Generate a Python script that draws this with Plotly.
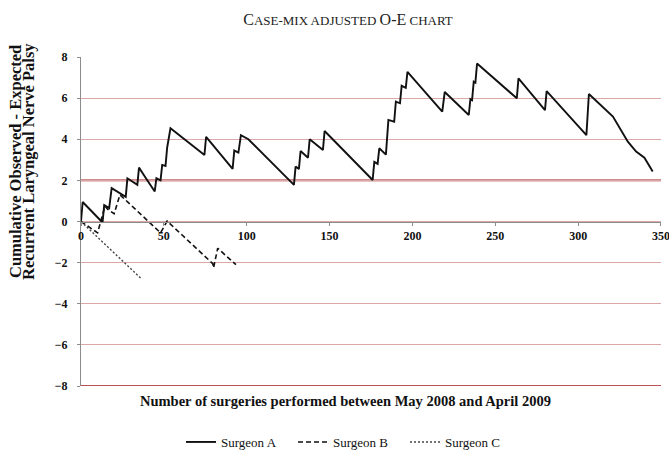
import plotly.graph_objects as go

# ---- data ----
surgeon_a_x = [0, 1, 13, 14, 17, 18.5, 27, 28, 34, 35, 38, 44.5, 45.5, 48, 49, 51, 52, 54,
               74.5, 75.5, 91.5, 92.5, 95, 96.5, 101, 128.5, 129.5, 131.5, 132.5, 137, 138,
               146, 147, 176, 177, 179, 180, 184, 185.5, 189, 190, 192.5, 193.5, 196, 197,
               218, 219.5, 234, 235, 236, 237, 238, 239, 263, 264, 280, 281, 305, 306.5,
               321, 330, 335, 340, 345]
surgeon_a_y = [0, 0.95, -0.05, 0.8, 0.65, 1.62, 1.2, 2.1, 1.78, 2.62, 2.25, 1.46, 2.1, 2.0, 2.75, 2.7, 3.6, 4.53,
               3.24, 4.12, 2.56, 3.45, 3.35, 4.2, 4.0, 1.78, 2.67, 2.55, 3.43, 3.1, 4.0,
               3.48, 4.4, 2.02, 2.9, 2.8, 3.56, 3.25, 4.94, 4.85, 5.83, 5.75, 6.6, 6.5, 7.28,
               5.34, 6.3, 5.18, 5.95, 5.9, 6.8, 6.75, 7.68, 5.99, 6.96, 5.42, 6.34, 4.2, 6.2,
               5.1, 3.88, 3.4, 3.1, 2.43]

surgeon_b_x = [0, 10, 14.5, 16, 20, 23.5, 48, 52, 79.5, 80, 82.5, 93.5]
surgeon_b_y = [0, -0.55, 0.75, 0.6, 0.38, 1.3, -0.55, 0.02, -2.05, -2.25, -1.3, -2.1]

surgeon_c_x = [0, 36]
surgeon_c_y = [0, -2.75]

y_ticks = [-8, -6, -4, -2, 0, 2, 4, 6, 8]
x_ticks = [0, 50, 100, 150, 200, 250, 300, 350]
limit_lines = [2, -8]

SERIF = "Liberation Serif, Times New Roman, serif"

fig = go.Figure()
fig.add_trace(go.Scatter(x=surgeon_a_x, y=surgeon_a_y, mode="lines", name="Surgeon A",
                         line=dict(color="#111111", width=1.9)))
fig.add_trace(go.Scatter(x=surgeon_b_x, y=surgeon_b_y, mode="lines", name="Surgeon B",
                         line=dict(color="#111111", width=1.6, dash="5px,3px")))
fig.add_trace(go.Scatter(x=surgeon_c_x, y=surgeon_c_y, mode="lines", name="Surgeon C",
                         line=dict(color="#444444", width=1.4, dash="2px,2px")))

for v in limit_lines:
    fig.add_shape(type="line", xref="paper", x0=0, x1=1, yref="y", y0=v, y1=v,
                  line=dict(color="#a01818", width=1.6), layer="below")

fig.update_layout(
    width=669, height=460,
    margin=dict(l=81, r=8, t=57, b=74, autoexpand=False),
    paper_bgcolor="white", plot_bgcolor="white",
    font=dict(family=SERIF, color="#111111"),
    title=dict(
        text="C<span style='font-size:13px'>ASE-MIX ADJUSTED </span>O-E<span style='font-size:13px'> CHART</span>",
        x=348 / 669, xanchor="center", xref="container",
        y=1 - 19 / 460, yanchor="middle", yref="container",
        font=dict(family=SERIF, size=16, color="#222222"),
    ),
    xaxis=dict(
        range=[0, 350.01], tickvals=x_ticks, showgrid=False, zeroline=False,
        showline=True, linecolor="#8c8c8c", linewidth=1,
        ticks="outside", ticklen=3, tickcolor="#8c8c8c",
        anchor="free", position=0.5, automargin=False, ticklabeloverflow="allow",
        tickfont=dict(family=SERIF, size=12, weight="bold", color="#111111"),
    ),
    yaxis=dict(
        range=[-8, 8], tickvals=y_ticks, showgrid=True, gridcolor="#dba8a8", gridwidth=1,
        zeroline=False, showline=True, linecolor="#8c8c8c", linewidth=1,
        ticks="outside", ticklen=3, tickcolor="#8c8c8c", automargin=False,
        ticklabelstandoff=7,
        tickfont=dict(family=SERIF, size=12, weight="bold", color="#111111"),
    ),
    legend=dict(orientation="h", x=(349 - 81) / 580, xanchor="center",
                y=(386 - 442) / 329, yanchor="middle",
                font=dict(family=SERIF, size=13, color="#111111"),
                itemwidth=30, tracegroupgap=0, entrywidth=67, entrywidthmode="pixels"),
    showlegend=True,
)

fig.add_annotation(text="Cumulative Observed - Expected",
                   xref="paper", yref="paper", x=(15 - 81) / 580, y=(386 - 162) / 329,
                   textangle=-90, showarrow=False, xanchor="center", yanchor="middle",
                   font=dict(family=SERIF, size=16.5, weight="bold", color="#111111"))
fig.add_annotation(text="Recurrent Laryngeal Nerve Palsy",
                   xref="paper", yref="paper", x=(28 - 81) / 580, y=(386 - 162) / 329,
                   textangle=-90, showarrow=False, xanchor="center", yanchor="middle",
                   font=dict(family=SERIF, size=16.5, weight="bold", color="#111111"))
fig.add_annotation(text="Number of surgeries performed between May 2008 and April 2009",
                   xref="paper", yref="paper", x=(345 - 81) / 580, y=(386 - 401) / 329,
                   showarrow=False, xanchor="center", yanchor="middle",
                   font=dict(family=SERIF, size=14.5, weight="bold", color="#111111"))

fig.write_html("out.html", config={"displayModeBar": False},
               post_script="document.body.style.margin='0';document.body.style.padding='0';")
